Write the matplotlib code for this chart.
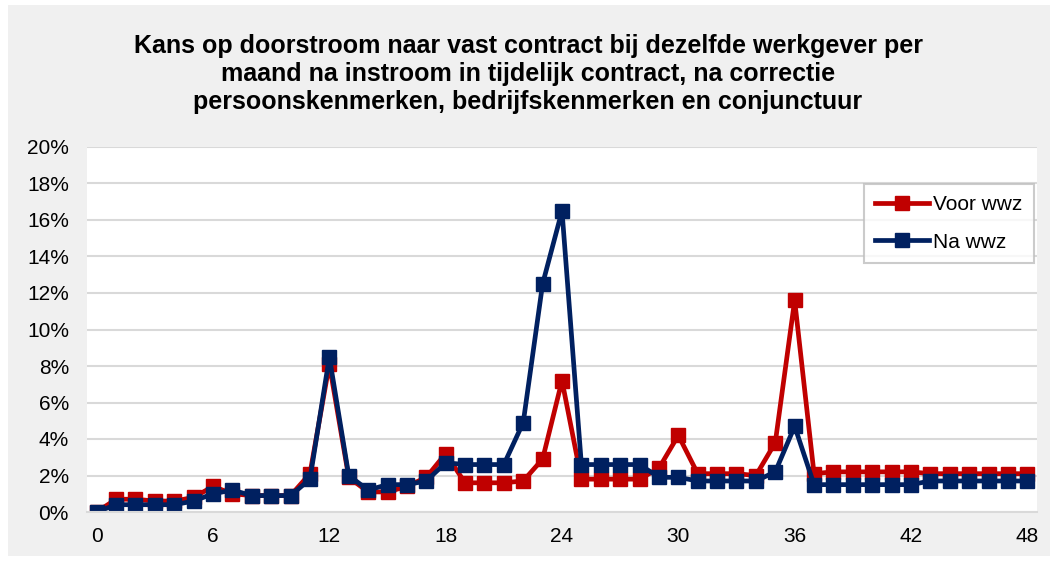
import matplotlib.pyplot as plt
from matplotlib.patches import Rectangle
from matplotlib.ticker import FuncFormatter

plt.rcParams['font.family'] = ['Liberation Sans', 'DejaVu Sans']

maanden = list(range(49))
voor_wwz = [0.0, 0.7, 0.7, 0.6, 0.6, 0.8, 1.4, 1.0, 0.9, 0.9, 0.9, 2.1, 8.1,
            1.9, 1.1, 1.1, 1.4, 1.9, 3.2, 1.6, 1.6, 1.6, 1.7, 2.9, 7.2,
            1.8, 1.8, 1.8, 1.8, 2.4, 4.2, 2.1, 2.1, 2.1, 2.0, 3.8, 11.6,
            2.1, 2.2, 2.2, 2.2, 2.2, 2.2, 2.1, 2.1, 2.1, 2.1, 2.1, 2.1]
na_wwz = [0.0, 0.4, 0.4, 0.4, 0.4, 0.6, 1.0, 1.2, 0.9, 0.9, 0.9, 1.8, 8.5,
          2.0, 1.2, 1.5, 1.5, 1.7, 2.7, 2.6, 2.6, 2.6, 4.9, 12.5, 16.5,
          2.6, 2.6, 2.6, 2.6, 1.9, 1.9, 1.7, 1.7, 1.7, 1.7, 2.2, 4.7,
          1.5, 1.5, 1.5, 1.5, 1.5, 1.5, 1.7, 1.7, 1.7, 1.7, 1.7, 1.7]
titel = ("Kans op doorstroom naar vast contract bij dezelfde werkgever per\n"
         "maand na instroom in tijdelijk contract, na correctie\n"
         "persoonskenmerken, bedrijfskenmerken en conjunctuur")

fig = plt.figure(figsize=(10.56, 5.61), dpi=100)
fig.patch.set_facecolor('white')
kader = Rectangle((8 / 1056, 5 / 561), 1042 / 1056, 551 / 561,
                  transform=fig.transFigure, facecolor='#f0f0f0',
                  edgecolor='none', zorder=-5)
fig.add_artist(kader)

ax = fig.add_axes([87 / 1056, 49 / 561, 950 / 1056, 365 / 561])
ax.set_facecolor('white')

ax.plot(maanden, voor_wwz, color='#c00000', lw=3.4, marker='s', ms=10,
        label='Voor wwz')
ax.plot(maanden, na_wwz, color='#002060', lw=3.4, marker='s', ms=10,
        label='Na wwz')

ax.set_xlim(-0.5, 48.5)
ax.set_ylim(0, 20)
ax.set_xticks(range(0, 49, 6))
ax.set_yticks(range(0, 21, 2))
ax.yaxis.set_major_formatter(FuncFormatter(lambda v, p: f"{v:.0f}%"))
ax.tick_params(length=0, labelsize=15)
ax.tick_params(axis='y', pad=13)
ax.tick_params(axis='x', pad=11)
ax.grid(axis='y', color='#d9d9d9', lw=1.5)
ax.set_axisbelow(True)
for s in ['top', 'right', 'left']:
    ax.spines[s].set_visible(False)
ax.spines['bottom'].set_color('#d9d9d9')
ax.spines['bottom'].set_linewidth(1.5)

fig.text(0.5, 0.94, titel, ha='center', va='top', fontsize=18,
         fontweight='bold', linespacing=1.22)

leg = ax.legend(loc='upper right', bbox_to_anchor=(0.997, 0.9), fontsize=15,
                frameon=True, fancybox=False, handlelength=2.6,
                labelspacing=0.9, borderpad=0.55, handletextpad=0.2,
                borderaxespad=0)
leg.get_frame().set_edgecolor('#bfbfbf')
leg.get_frame().set_linewidth(1.5)

fig.savefig('out.png', dpi=100)
